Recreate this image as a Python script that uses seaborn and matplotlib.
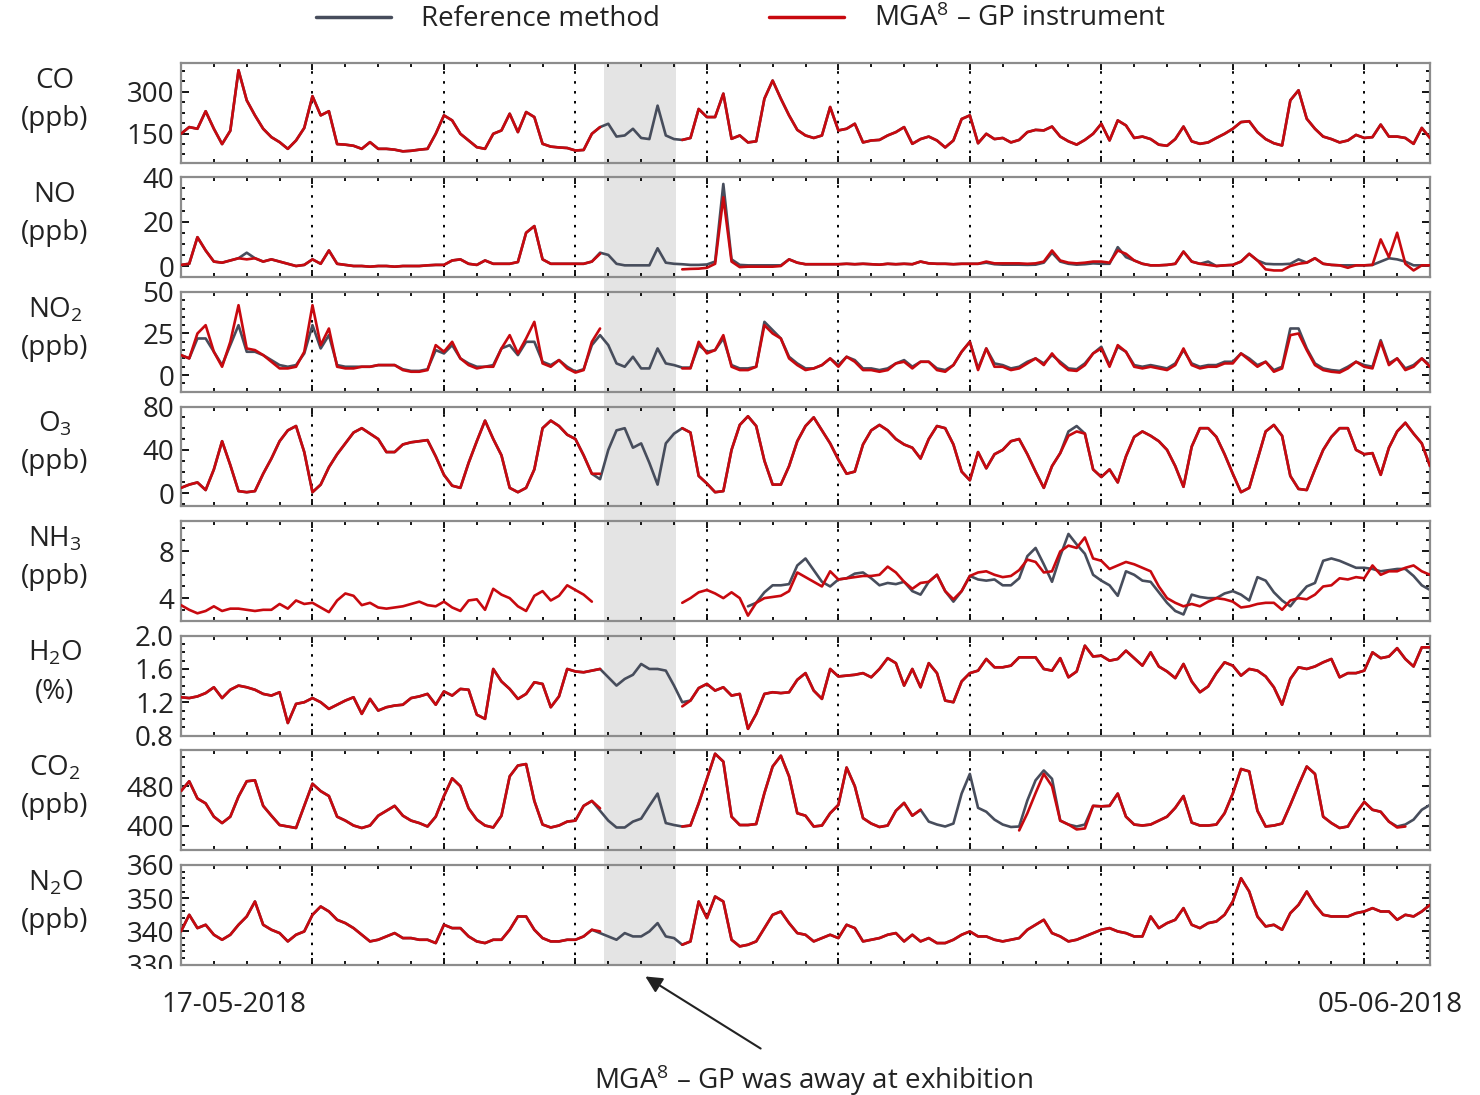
import numpy as np
import pandas as pd
import matplotlib
matplotlib.use('Agg')
import matplotlib.pyplot as plt
import matplotlib.dates as mdates
import matplotlib.ticker as mticker
from matplotlib.lines import Line2D
from matplotlib.patches import Rectangle
from matplotlib.transforms import blended_transform_factory, Bbox, TransformedBbox
import seaborn as sns

sns.set_theme(style="ticks")
plt.rcParams['font.family'] = ['Open Sans', 'DejaVu Sans']
plt.rcParams['mathtext.fontset'] = 'custom'
plt.rcParams['mathtext.rm'] = 'Open Sans'
plt.rcParams['mathtext.default'] = 'regular'
plt.rcParams['text.color'] = '#222222'
plt.rcParams['ytick.labelcolor'] = '#222222'

nan = np.nan

# 3-hourly samples from 17-05-2018 00:00 to 05-06-2018 00:00 (one row = one day)
TIME = pd.date_range('2018-05-17', periods=153, freq='3h')

CO_REF = [
    149, 173, 167, 230, 167, 112, 160, 377,
    269, 215, 167, 137, 119, 95, 125, 170,
    284, 215, 230, 112, 110, 106, 95, 119,
    95, 95, 92, 86, 88, 92, 95, 149,
    215, 197, 149, 125, 101, 95, 149, 161,
    221, 155, 227, 209, 113, 103, 100, 98,
    89, 91, 149, 173, 185, 139, 143, 167,
    134, 130, 250, 143, 130, 127, 134, 238,
    209, 209, 293, 131, 143, 118, 122, 275,
    340, 275, 215, 163, 143, 134, 143, 245,
    161, 167, 185, 118, 125, 127, 143, 155,
    173, 113, 130, 139, 125, 100, 125, 202,
    215, 115, 149, 130, 134, 118, 127, 155,
    163, 161, 175, 139, 122, 110, 127, 149,
    185, 125, 197, 179, 134, 139, 130, 110,
    106, 130, 175, 122, 113, 118, 134, 149,
    167, 191, 194, 155, 130, 115, 107, 269,
    305, 203, 167, 139, 130, 118, 125, 145,
    134, 137, 182, 139, 139, 134, 113, 170,
    134]
CO_MGA = [
    149, 173, 167, 230, 167, 112, 160, 377,
    269, 215, 167, 137, 119, 95, 125, 170,
    284, 215, 230, 112, 110, 106, 95, 119,
    95, 95, 92, 86, 88, 92, 95, 149,
    215, 197, 149, 125, 101, 95, 149, 161,
    221, 155, 227, 209, 113, 103, 100, 98,
    89, 91, 149, 173, nan, nan, nan, nan,
    nan, nan, nan, nan, nan, 127, 134, 238,
    209, 209, 293, 131, 143, 118, 122, 275,
    340, 275, 215, 163, 143, 134, 143, 245,
    161, 167, 185, 118, 125, 127, 143, 155,
    173, 113, 130, 139, 125, 100, 125, 202,
    215, 115, 149, 130, 134, 118, 127, 155,
    163, 161, 175, 139, 122, 110, 127, 149,
    185, 125, 197, 179, 134, 139, 130, 110,
    106, 130, 175, 122, 113, 118, 134, 149,
    167, 191, 194, 155, 130, 115, 107, 269,
    305, 203, 167, 139, 130, 118, 125, 145,
    134, 137, 182, 139, 139, 134, 113, 170,
    134]

NO_REF = [
    0.5, 1, 13, 7, 2, 1.5, 2.5, 3.5,
    6, 3.5, 2, 3, 2, 1, 0, 0.5,
    3, 1, 7, 1, 0.5, 0, 0, -0.3,
    0, 0, -0.3, 0, 0, 0, 0.3, 0.5,
    0.5, 2.5, 3, 1, 0.5, 2.5, 1, 1,
    1, 1.8, 15, 18, 3, 1, 1, 1,
    1, 1, 2, 6, 5, 1, 0.3, 0.3,
    0.3, 0.3, 8, 1.5, 1, 0.8, 0.5, 0.5,
    0.7, 2, 37, 3, 0.5, 0.3, 0.3, 0.3,
    0.3, 0.3, 3, 1.5, 0.8, 0.8, 0.8, 0.8,
    0.8, 1, 0.8, 1, 0.8, 0.6, 1, 0.8,
    1, 0.8, 2, 1.2, 1, 1, 0.8, 1,
    1, 1, 1.5, 0.8, 0.6, 0.6, 0.6, 0.5,
    0.6, 1.5, 6, 2, 1, 0.6, 0.8, 1.2,
    1, 1, 8.5, 4, 2.5, 1, 0.3, 0.3,
    0.5, 1, 6.5, 2, 1, 2, 0, 0.3,
    0.5, 2, 5.5, 2.5, 1, 0.8, 0.8, 1,
    3, 1.5, 3.5, 1, 0.5, 0.3, 0.3, 0.3,
    0.3, 0.5, 2, 3.5, 3, 2, 0.3, 0.3,
    0.3]
NO_MGA = [
    0.5, 1, 13, 7, 2, 1.5, 2.5, 3.5,
    3, 3.5, 2, 3, 2, 1, 0, 0.5,
    3, 1, 7, 1, 0.5, 0, 0, -0.3,
    0, 0, -0.3, 0, 0, 0, 0.3, 0.5,
    0.5, 2.5, 3, 1, 0.5, 2.5, 1, 1,
    1, 1.8, 15, 18, 3, 1, 1, 1,
    1, 1, 2, 5.5, nan, nan, nan, nan,
    nan, nan, nan, nan, nan, -1.5, -1.3, -1.2,
    -0.8, 1, 31, 2, -0.5, -0.3, -0.3, -0.3,
    -0.3, 0, 3, 1.5, 0.8, 0.8, 0.8, 0.8,
    0.8, 1, 0.8, 1, 0.8, 0.6, 1, 0.8,
    1, 0.8, 2, 1.2, 1, 1, 0.8, 1,
    1, 1, 2, 1.2, 1.2, 1.2, 1.2, 1,
    1.2, 2, 7, 2.5, 1.5, 1.2, 1.5, 2,
    2, 1.5, 7, 5.5, 2.5, 1, 0.3, 0.3,
    0.5, 1, 6.5, 2, 1, 0.5, 0, 0.3,
    0.5, 2, 5.5, 2.5, -1.5, -2, -2, 0,
    1, 1.5, 3.5, 1, 0.5, 0.3, -0.8, 0.3,
    0.3, 0.5, 12, 4, 15, 1, -2, 0.3,
    0.3]

NO2_REF = [
    12, 10, 22, 22, 14, 6, 18, 30,
    14, 14, 12, 9, 6, 5, 6, 13,
    30, 16, 24, 6, 5, 5, 5, 5,
    6, 6, 6, 3.5, 2.5, 2.5, 3.5, 15,
    13, 18, 10, 7, 5, 5, 6, 16,
    18, 12, 20, 20, 8, 6, 9, 5,
    2, 3.5, 18, 24, 18, 7, 5, 11,
    4, 4, 16, 7, 6, 4.5, 4.5, 18,
    14, 15, 22, 6, 4, 4, 5, 32,
    27, 22, 11, 7, 4, 4, 6, 10,
    6, 11, 9, 4, 4, 3, 4, 7,
    9, 5, 8, 8, 4, 3, 6, 14,
    20, 4, 16, 7, 6, 4, 5, 8,
    10, 7, 12, 8, 4, 3.5, 7, 13,
    17, 6, 17, 14, 6, 5, 6, 5,
    4, 7, 15, 7, 5, 6, 6, 8,
    8, 13, 10, 6, 8, 3, 5, 28,
    28, 16, 7, 4, 3, 2.5, 5, 8,
    6, 5, 21, 7, 10, 4, 6, 10,
    6]
NO2_MGA = [
    12, 10, 25, 30, 14, 5, 20, 42,
    16, 15, 12, 8, 4, 4, 5, 14,
    42, 18, 28, 5, 4, 4, 5, 5,
    6, 6, 6, 3, 2, 2, 3, 18,
    14, 20, 10, 6, 4, 5, 5, 16,
    24, 13, 22, 32, 7, 5, 9, 4,
    1.5, 3, 20, 28, nan, nan, nan, nan,
    nan, nan, nan, nan, nan, 4, 4, 20,
    13, 15, 24, 5, 3, 3, 5, 30,
    25, 22, 10, 6, 3, 4, 6, 10,
    5, 11, 8, 3, 3, 2, 3, 7,
    8, 4, 8, 8, 3, 2, 6, 14,
    20, 3, 16, 5, 5, 3, 4, 7,
    10, 6, 13, 7, 3, 2.5, 6, 13,
    16, 5, 18, 14, 5, 4, 5, 4,
    3, 6, 16, 6, 4, 5, 5, 7,
    7, 13, 9, 5, 8, 2, 4, 24,
    25, 15, 6, 3, 2, 1.5, 4, 8,
    5, 4, 20, 6, 10, 3, 5, 10,
    5]

O3_REF = [
    5, 8, 10, 3, 22, 48, 26, 2,
    1, 2, 18, 32, 48, 58, 62, 38,
    1, 8, 24, 36, 46, 56, 60, 55,
    50, 38, 38, 45, 47, 48, 49, 34,
    17, 7, 5, 28, 48, 67, 50, 35,
    5, 1, 5, 22, 60, 67, 62, 54,
    50, 35, 18, 13, 40, 58, 60, 42,
    46, 28, 8, 46, 55, 60, 56, 16,
    9, 1, 2, 40, 63, 71, 62, 30,
    8, 8, 25, 48, 62, 70, 58, 46,
    31, 18, 20, 45, 58, 63, 58, 50,
    45, 42, 32, 50, 62, 60, 45, 20,
    12, 38, 23, 36, 40, 48, 50, 36,
    20, 5, 25, 37, 57, 62, 55, 22,
    15, 22, 10, 34, 52, 57, 53, 48,
    40, 25, 6, 43, 60, 60, 52, 36,
    18, 1, 5, 31, 57, 63, 53, 16,
    4, 3, 22, 40, 52, 60, 60, 40,
    36, 37, 17, 42, 57, 65, 55, 46,
    25]
O3_MGA = [
    5, 8, 10, 3, 22, 48, 26, 2,
    1, 2, 18, 32, 48, 58, 62, 38,
    1, 8, 24, 36, 46, 56, 60, 55,
    50, 38, 38, 45, 47, 48, 49, 34,
    17, 7, 5, 28, 48, 67, 50, 35,
    5, 1, 5, 22, 60, 67, 62, 54,
    50, 35, 18, 18, nan, nan, nan, nan,
    nan, nan, nan, nan, nan, 60, 56, 16,
    9, 1, 2, 40, 63, 71, 62, 30,
    8, 8, 25, 48, 62, 70, 58, 46,
    31, 18, 20, 45, 58, 63, 58, 50,
    45, 42, 32, 50, 62, 60, 45, 20,
    12, 38, 23, 36, 40, 48, 50, 36,
    20, 5, 25, 37, 53, 57, 55, 22,
    15, 22, 10, 34, 52, 57, 53, 48,
    40, 25, 6, 43, 60, 60, 52, 36,
    18, 1, 5, 31, 57, 63, 53, 16,
    4, 3, 22, 40, 52, 60, 60, 40,
    36, 37, 17, 42, 57, 65, 55, 46,
    25]

NH3_REF = [
    nan, nan, nan, nan, nan, nan, nan, nan,
    nan, nan, nan, nan, nan, nan, nan, nan,
    nan, nan, nan, nan, nan, nan, nan, nan,
    nan, nan, nan, nan, nan, nan, nan, nan,
    nan, nan, nan, nan, nan, nan, nan, nan,
    nan, nan, nan, nan, nan, nan, nan, nan,
    nan, nan, nan, nan, nan, nan, nan, nan,
    nan, nan, nan, nan, nan, nan, nan, nan,
    nan, nan, nan, nan, nan, 3.3, 3.6, 4.5,
    5.1, 5.1, 5.2, 6.8, 7.4, 6.4, 5.4, 5.0,
    5.6, 5.7, 6.1, 6.2, 5.7, 5.1, 5.3, 5.2,
    5.4, 4.6, 4.3, 5.4, 6.0, 4.6, 3.7, 4.6,
    5.9, 5.6, 5.5, 5.6, 5.1, 5.1, 5.7, 7.6,
    8.3, 6.9, 5.4, 7.6, 9.5, 8.6, 7.8, 6.0,
    5.5, 5.1, 4.2, 6.3, 6.0, 5.5, 5.4, 4.5,
    3.6, 2.9, 2.6, 4.3, 4.1, 4.0, 4.0, 4.4,
    4.6, 4.3, 3.8, 5.8, 5.5, 4.5, 3.8, 3.3,
    4.2, 5.0, 5.3, 7.2, 7.4, 7.2, 6.9, 6.6,
    6.6, 6.5, 6.3, 6.4, 6.5, 6.5, 5.9, 5.1,
    4.7]
NH3_MGA = [
    3.4, 3.0, 2.7, 2.9, 3.3, 2.9, 3.1, 3.1,
    3.0, 2.9, 3.0, 3.0, 3.5, 3.1, 3.8, 3.5,
    3.6, 3.2, 2.8, 3.8, 4.4, 4.2, 3.4, 3.6,
    3.2, 3.1, 3.2, 3.3, 3.5, 3.7, 3.4, 3.3,
    3.7, 3.2, 2.9, 3.8, 3.9, 3.0, 4.8, 4.3,
    4.0, 3.3, 2.9, 4.2, 4.6, 3.8, 4.2, 5.1,
    4.7, 4.3, 3.7, nan, nan, nan, nan, nan,
    nan, nan, nan, nan, nan, 3.6, 4.0, 4.5,
    4.7, 4.4, 4.0, 4.5, 4.0, 2.5, 3.6, 4.0,
    4.1, 4.2, 4.6, 6.2, 5.8, 5.4, 5.0, 6.3,
    5.6, 5.7, 5.8, 5.9, 5.9, 6.0, 6.7, 6.2,
    5.4, 4.8, 5.3, 5.4, 6.0, 4.6, 3.9, 4.6,
    5.9, 6.2, 6.3, 6.0, 5.8, 5.9, 6.4, 7.3,
    7.1, 6.2, 6.3, 8.0, 8.5, 8.3, 9.2, 7.4,
    7.2, 6.5, 6.8, 7.1, 6.9, 6.6, 6.3, 5.0,
    4.0, 3.6, 3.3, 3.5, 3.3, 3.7, 4.0, 3.9,
    3.7, 3.2, 3.3, 3.5, 3.6, 3.6, 3.0, 3.8,
    4.0, 3.9, 4.3, 5.0, 5.1, 5.7, 5.6, 5.8,
    5.7, 6.8, 6.0, 6.3, 6.3, 6.6, 6.8, 6.3,
    6.0]

H2O_REF = [
    1.26, 1.25, 1.27, 1.31, 1.38, 1.25, 1.35, 1.40,
    1.38, 1.35, 1.30, 1.28, 1.32, 0.95, 1.18, 1.20,
    1.25, 1.20, 1.12, 1.17, 1.22, 1.26, 1.06, 1.24,
    1.10, 1.14, 1.16, 1.17, 1.25, 1.27, 1.30, 1.17,
    1.33, 1.28, 1.36, 1.35, 1.05, 1.00, 1.60, 1.45,
    1.36, 1.24, 1.30, 1.44, 1.42, 1.14, 1.27, 1.60,
    1.57, 1.56, 1.58, 1.60, 1.50, 1.40, 1.48, 1.53,
    1.66, 1.60, 1.60, 1.58, 1.40, 1.20, 1.22, 1.37,
    1.42, 1.34, 1.38, 1.28, 1.30, 0.88, 1.06, 1.30,
    1.32, 1.31, 1.32, 1.47, 1.55, 1.34, 1.24, 1.60,
    1.51, 1.52, 1.53, 1.55, 1.50, 1.60, 1.73, 1.67,
    1.40, 1.60, 1.38, 1.67, 1.55, 1.22, 1.20, 1.45,
    1.55, 1.58, 1.72, 1.62, 1.62, 1.64, 1.74, 1.74,
    1.74, 1.60, 1.58, 1.73, 1.50, 1.57, 1.88, 1.75,
    1.76, 1.70, 1.72, 1.82, 1.73, 1.64, 1.80, 1.63,
    1.57, 1.49, 1.66, 1.45, 1.32, 1.39, 1.55, 1.68,
    1.64, 1.52, 1.60, 1.58, 1.51, 1.38, 1.17, 1.48,
    1.62, 1.60, 1.63, 1.68, 1.72, 1.50, 1.55, 1.55,
    1.58, 1.80, 1.73, 1.75, 1.85, 1.72, 1.63, 1.86,
    1.86]
H2O_MGA = [
    1.26, 1.25, 1.27, 1.31, 1.38, 1.25, 1.35, 1.40,
    1.38, 1.35, 1.30, 1.28, 1.32, 0.95, 1.18, 1.20,
    1.25, 1.20, 1.12, 1.17, 1.22, 1.26, 1.06, 1.24,
    1.10, 1.14, 1.16, 1.17, 1.25, 1.27, 1.30, 1.17,
    1.33, 1.28, 1.36, 1.35, 1.05, 1.00, 1.60, 1.45,
    1.36, 1.24, 1.30, 1.44, 1.42, 1.14, 1.27, 1.60,
    1.57, 1.56, 1.58, 1.60, nan, nan, nan, nan,
    nan, nan, nan, nan, nan, 1.15, 1.22, 1.37,
    1.42, 1.34, 1.38, 1.28, 1.30, 0.88, 1.06, 1.30,
    1.32, 1.31, 1.32, 1.47, 1.55, 1.34, 1.24, 1.60,
    1.51, 1.52, 1.53, 1.55, 1.50, 1.60, 1.73, 1.67,
    1.40, 1.60, 1.38, 1.67, 1.55, 1.22, 1.20, 1.45,
    1.55, 1.58, 1.72, 1.62, 1.62, 1.64, 1.74, 1.74,
    1.74, 1.60, 1.58, 1.73, 1.50, 1.57, 1.88, 1.75,
    1.76, 1.70, 1.72, 1.82, 1.73, 1.64, 1.80, 1.63,
    1.57, 1.49, 1.66, 1.45, 1.32, 1.39, 1.55, 1.68,
    1.64, 1.52, 1.60, 1.58, 1.51, 1.38, 1.17, 1.48,
    1.62, 1.60, 1.63, 1.68, 1.72, 1.50, 1.55, 1.55,
    1.58, 1.80, 1.73, 1.75, 1.85, 1.72, 1.63, 1.86,
    1.86]

CO2_REF = [
    470, 490, 455, 445, 418, 405, 418, 459,
    490, 492, 440, 420, 401, 398, 395, 440,
    485, 470, 460, 418, 410, 400, 395, 400,
    420, 430, 440, 420, 410, 405, 398, 418,
    460, 496, 480, 435, 412, 400, 396, 420,
    500, 522, 525, 450, 402, 396, 400, 408,
    410, 440, 450, 430, 410, 396, 396, 408,
    414, 440, 465, 405, 401, 398, 400, 445,
    495, 546, 530, 418, 401, 401, 403, 466,
    520, 542, 500, 425, 420, 398, 400, 425,
    442, 518, 480, 415, 404, 397, 400, 430,
    446, 420, 432, 408, 402, 398, 404, 465,
    505, 436, 428, 412, 402, 397, 398, 451,
    492, 512, 495, 410, 402, 398, 402, 440,
    439, 440, 465, 418, 402, 400, 402, 410,
    418, 436, 460, 406, 400, 400, 402, 425,
    465, 515, 510, 430, 398, 400, 404, 442,
    482, 520, 505, 418, 405, 395, 398, 425,
    448, 432, 428, 408, 398, 402, 412, 432,
    442]
CO2_MGA = [
    470, 490, 455, 445, 418, 405, 418, 459,
    490, 492, 440, 420, 401, 398, 395, 440,
    485, 470, 460, 418, 410, 400, 395, 400,
    420, 430, 440, 420, 410, 405, 398, 418,
    460, 496, 480, 435, 412, 400, 396, 420,
    500, 522, 525, 450, 402, 396, 400, 408,
    410, 440, 450, 435, nan, nan, nan, nan,
    nan, nan, nan, nan, nan, 398, 400, 445,
    495, 546, 530, 418, 401, 401, 403, 466,
    520, 542, 500, 425, 420, 398, 400, 425,
    442, 518, 480, 415, 404, 397, 400, 430,
    446, 420, 432, nan, nan, nan, nan, nan,
    nan, nan, nan, nan, nan, nan, 390, 425,
    466, 505, 480, 410, 402, 392, 394, 440,
    439, 440, 465, 418, 402, 400, 402, 410,
    418, 436, 460, 406, 400, 400, 402, 425,
    465, 515, 510, 430, 398, 400, 404, 442,
    482, 520, 505, 418, 405, 395, 398, 425,
    448, 432, 428, 408, 396, 398, nan, nan,
    nan]

N2O_REF = [
    340, 345, 341, 342, 339, 337.5, 339, 342,
    344.5, 349, 342, 340.5, 339.5, 337, 339, 340,
    345, 347.5, 346, 343.5, 342.5, 341, 339, 337,
    337.5, 338.5, 339.5, 338, 338, 337.5, 337.5, 336.5,
    342, 341, 341, 338.5, 337, 336.5, 337.5, 337.5,
    340.5, 344.5, 344.5, 340.5, 338, 337, 337, 337.5,
    337.5, 338.5, 340.5, 339.5, 338.5, 337.5, 339.5, 338.5,
    338.5, 340, 342.5, 338.5, 338, 336, 337, 349,
    344, 350.5, 349, 337.5, 335.5, 336, 337, 341,
    345, 346, 342.5, 339.5, 339, 337, 338, 339,
    338, 342, 341, 337, 337.5, 338, 339, 339.5,
    337, 339, 337, 338, 336.5, 336.5, 337.5, 339,
    340, 338.5, 338.5, 337.5, 337, 337.5, 338, 340.5,
    342, 343.5, 339.5, 338.5, 337, 337.5, 338.5, 339.5,
    340.5, 341, 340, 339.5, 338.5, 338.5, 344.5, 341,
    342.5, 343.5, 347, 342, 341, 342.5, 343, 345,
    349, 356, 352, 344.5, 341.5, 342, 340.5, 345.5,
    348, 352, 348, 345, 344.5, 344.5, 344.5, 345.5,
    346, 347, 346, 346, 343.5, 345, 344.5, 346,
    348]
N2O_MGA = [
    340, 345, 341, 342, 339, 337.5, 339, 342,
    344.5, 349, 342, 340.5, 339.5, 337, 339, 340,
    345, 347.5, 346, 343.5, 342.5, 341, 339, 337,
    337.5, 338.5, 339.5, 338, 338, 337.5, 337.5, 336.5,
    342, 341, 341, 338.5, 337, 336.5, 337.5, 337.5,
    340.5, 344.5, 344.5, 340.5, 338, 337, 337, 337.5,
    337.5, 338.5, 340.5, 340, nan, nan, nan, nan,
    nan, nan, nan, nan, nan, 336, 337, 349,
    344, 350.5, 349, 337.5, 335.5, 336, 337, 341,
    345, 346, 342.5, 339.5, 339, 337, 338, 339,
    338, 342, 341, 337, 337.5, 338, 339, 339.5,
    337, 339, 337, 338, 336.5, 336.5, 337.5, 339,
    340, 338.5, 338.5, 337.5, 337, 337.5, 338, 340.5,
    342, 343.5, 339.5, 338.5, 337, 337.5, 338.5, 339.5,
    340.5, 341, 340, 339.5, 338.5, 338.5, 344.5, 341,
    342.5, 343.5, 347, 342, 341, 342.5, 343, 345,
    349, 356, 352, 344.5, 341.5, 342, 340.5, 345.5,
    348, 352, 348, 345, 344.5, 344.5, 344.5, 345.5,
    346, 347, 346, 346, 343.5, 345, 344.5, 346,
    348]

NAMES = ['CO', 'NO', 'NO$_2$', 'O$_3$', 'NH$_3$', 'H$_2$O', 'CO$_2$', 'N$_2$O']
UNITS = ['(ppb)', '(ppb)', '(ppb)', '(ppb)', '(ppb)', '(%)', '(ppb)', '(ppb)']
REF = [CO_REF, NO_REF, NO2_REF, O3_REF, NH3_REF, H2O_REF, CO2_REF, N2O_REF]
MGA = [CO_MGA, NO_MGA, NO2_MGA, O3_MGA, NH3_MGA, H2O_MGA, CO2_MGA, N2O_MGA]
YTICKS = [[150, 300], [0, 20, 40], [0, 25, 50], [0, 40, 80], [4, 8],
          [0.8, 1.2, 1.6, 2.0], [400, 480], [330, 340, 350, 360]]
YTICKLABELS = [['150', '300'], ['0', '20', '40'], ['0', '25', '50'], ['0', '40', '80'],
               ['4', '8'], ['0.8', '1.2', '1.6', '2.0'], ['400', '480'],
               ['330', '340', '350', '360']]

# axis setup (limits / minor tick step) for each panel
YLIMS = [(46, 404), (-5, 40), (-10, 50), (-12, 80), (2.05, 10.6), (0.8, 2.0), (350, 553), (330, 360)]
YMINOR = [37.5, 5, 5, 10, 1, 0.1, 20, 2]

GAP_START = pd.Timestamp('2018-05-23 10:30')
GAP_END = pd.Timestamp('2018-05-24 12:40')

C_REF = '#474d5c'
C_MGA = '#c8090f'
FS = 20

W, H = 1480, 1095
fig = plt.figure(figsize=(W / 100, H / 100), dpi=100)


def draw_series(ax, values, color, z):
    s = pd.Series(values, index=TIME, dtype=float)
    ok = s.notna()
    grp = (~ok).cumsum()
    for _, seg in s[ok].groupby(grp[ok]):
        if len(seg) < 2:
            continue
        sns.lineplot(x=seg.index, y=seg.values, ax=ax, color=color, lw=1.9,
                     zorder=z, estimator=None)


major_x = mdates.date2num(pd.date_range('2018-05-19', '2018-06-04', freq='2D'))
minor_x = mdates.date2num(pd.date_range('2018-05-17', '2018-06-05', freq='12h'))

axes = []
for i in range(8):
    top = 62.7 + 114.6 * i
    ax = fig.add_axes([181 / W, 1 - (top + 99.8) / H, 1249 / W, 99.8 / H])
    ax.set_facecolor('none')
    draw_series(ax, REF[i], C_REF, 2)
    draw_series(ax, MGA[i], C_MGA, 3)
    ax.set_xlim(pd.Timestamp('2018-05-17'), pd.Timestamp('2018-06-05'))
    ax.set_ylim(*YLIMS[i])
    ax.set_xlabel('')
    ax.set_ylabel('')
    ax.set_xticks(major_x)
    ax.set_xticks(minor_x, minor=True)
    ax.tick_params(labelbottom=False)
    ax.set_yticks(YTICKS[i])
    ax.set_yticklabels(YTICKLABELS[i])
    ax.yaxis.set_minor_locator(mticker.MultipleLocator(YMINOR[i]))
    ax.tick_params(which='both', direction='in', top=True, right=True,
                   color='black', width=1.3)
    ax.tick_params(axis='x', which='major', length=5)
    ax.tick_params(axis='x', which='minor', length=3)
    ax.tick_params(axis='y', which='major', length=6, labelsize=FS, pad=5)
    ax.tick_params(axis='y', which='minor', length=3)
    for sp in ax.spines.values():
        sp.set_color('#8c8c8c')
        sp.set_linewidth(1.6)
    ax.grid(True, axis='x', which='major', color='black', lw=1.4,
            linestyle=(0, (1.3, 3.8)))
    ax.set_axisbelow(True)
    fig.text(55 / W, 1 - (top + 18) / H, NAMES[i], ha='center', va='center', fontsize=FS)
    fig.text(55 / W, 1 - (top + 56) / H, UNITS[i], ha='center', va='center', fontsize=FS)
    axes.append(ax)

# bottom tick label of the last panel is cut off at the figure edge of the panel block
clip = TransformedBbox(Bbox([[0, 1 - 969 / H], [1, 1]]), fig.transFigure)
for lbl in axes[-1].get_yticklabels():
    lbl.set_clip_box(clip)
    lbl.set_clip_on(True)

# shaded period: instrument away at exhibition, across all panels
trans = blended_transform_factory(axes[0].transData, fig.transFigure)
x0 = mdates.date2num(GAP_START)
x1 = mdates.date2num(GAP_END)
band = Rectangle((x0, 1 - 965 / H), x1 - x0, (965 - 62.7) / H, transform=trans,
                 facecolor='#e4e4e4', edgecolor='none', zorder=-5)
fig.add_artist(band)

handles = [Line2D([], [], color=C_REF, lw=2.5), Line2D([], [], color=C_MGA, lw=2.5)]
fig.legend(handles, ['Reference method', 'MGA$^{8}$ – GP instrument'],
           loc='center', bbox_to_anchor=(741 / W, 1 - 19 / H), ncol=2, frameon=False,
           fontsize=FS, handlelength=2.7, handletextpad=1.1, columnspacing=3.9)

fig.text(234 / W, 1 - 1005 / H, '17-05-2018', ha='center', va='center', fontsize=FS)
fig.text(1390 / W, 1 - 1005 / H, '05-06-2018', ha='center', va='center', fontsize=FS)

axes[-1].annotate('', xy=(643 / W, 1 - 975 / H), xytext=(763 / W, 1 - 1050 / H),
                  xycoords='figure fraction', textcoords='figure fraction',
                  arrowprops=dict(arrowstyle='-|>', color='#222222', lw=1.5,
                                  mutation_scale=25),
                  annotation_clip=False)
fig.text(813 / W, 1 - 1080 / H, 'MGA$^{8}$ – GP was away at exhibition',
         ha='center', va='center', fontsize=FS)

fig.savefig('out.png', dpi=100)
